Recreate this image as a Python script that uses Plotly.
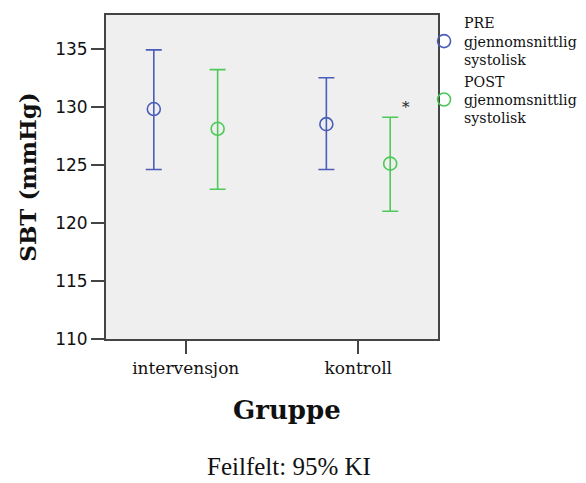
import plotly.graph_objects as go

groups = ["intervensjon", "kontroll"]
pre_mean = [129.8, 128.5]
pre_low = [124.6, 124.6]
pre_high = [134.9, 132.5]
post_mean = [128.1, 125.1]
post_low = [122.9, 121.0]
post_high = [133.2, 129.1]
series_names = ["PRE<br>gjennomsnittlig<br>systolisk", "POST<br>gjennomsnittlig<br>systolisk"]
colors = ["#4a5db8", "#4cc957"]

fig = go.Figure()
for name, mean, low, high, col in [
    (series_names[0], pre_mean, pre_low, pre_high, colors[0]),
    (series_names[1], post_mean, post_low, post_high, colors[1]),
]:
    fig.add_trace(go.Scatter(
        x=groups, y=mean, name=name, mode="markers",
        offsetgroup=name,
        marker=dict(symbol="circle-open", size=13, color=col, line=dict(width=1.6, color=col)),
        error_y=dict(type="data", symmetric=False,
                     array=[h - m for h, m in zip(high, mean)],
                     arrayminus=[m - l for m, l in zip(mean, low)],
                     color=col, thickness=1.6, width=8),
    ))

fig.add_annotation(x=1.276, y=130.0, xref="x", yref="y", text="*", showarrow=False,
                   font=dict(family="DejaVu Serif", size=15, color="#222"))
fig.add_annotation(x=0.545, y=-0.22, xref="paper", yref="paper", yanchor="middle",
                   text="<b>Gruppe</b>", showarrow=False,
                   font=dict(family="DejaVu Serif", size=26, color="#111"))
fig.add_annotation(x=0.55, y=-0.392, xref="paper", yref="paper", yanchor="middle",
                   text="Feilfelt: 95% KI", showarrow=False,
                   font=dict(family="Liberation Serif", size=25, color="#111"))

fig.update_layout(
    width=578, height=475,
    margin=dict(l=98, r=148, t=7, b=144, autoexpand=False),
    paper_bgcolor="white", plot_bgcolor="#efefef",
    scattermode="group", scattergap=0.26,
    font=dict(family="DejaVu Serif", color="#111"),
    legend=dict(x=0.958, y=1.025, xanchor="left", yanchor="top", bgcolor="rgba(0,0,0,0)",
                font=dict(family="DejaVu Serif", size=14.2, color="#111"),
                itemwidth=30, tracegroupgap=0, traceorder="normal"),
    xaxis=dict(type="category", range=[-0.462, 1.462], showgrid=False,
               showline=True, linecolor="#444", linewidth=2, mirror=True,
               ticks="outside", ticklen=13, tickwidth=2, tickcolor="#444",
               tickfont=dict(family="DejaVu Serif", size=17, color="#111")),
    yaxis=dict(range=[110, 137.9], dtick=5, showgrid=False, zeroline=False,
               showline=True, linecolor="#444", linewidth=2, mirror=True,
               ticks="outside", ticklen=13, tickwidth=2, tickcolor="#444",
               tickfont=dict(family="DejaVu Sans", size=17, color="#111"),
               title=dict(text="<b>SBT (mmHg)</b>", font=dict(family="DejaVu Serif", size=23, color="#111"), standoff=12)),
)

fig.write_html("out.html")
